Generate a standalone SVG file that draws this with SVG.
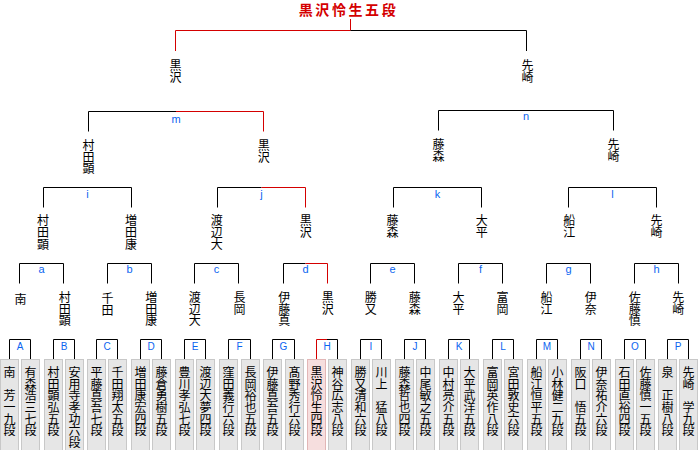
<svg xmlns="http://www.w3.org/2000/svg" width="700" height="450" viewBox="0 0 700 450">
<style>
.ln{fill:none;stroke:#000;stroke-width:1}
.rd{fill:none;stroke:#d40000;stroke-width:1}
.lb{font-family:"Liberation Sans",Arial,sans-serif;font-size:11px;fill:#0a64f0;text-anchor:middle}
.ub{font-family:"Liberation Sans",Arial,sans-serif;font-size:10px;fill:#0a64f0;text-anchor:middle}
.nm{font-family:"Noto Sans CJK JP","Noto Sans CJK SC",sans-serif;font-size:12px;fill:#000;writing-mode:vertical-rl;text-anchor:start;letter-spacing:-0.3px}
.bx{fill:#e6e6e6;stroke:#c8c8c8;stroke-width:1}
.bxr{fill:#f6dede;stroke:#e2b6b6;stroke-width:1}
.tt{font-family:"Noto Sans CJK JP","Noto Sans CJK SC",sans-serif;font-size:14px;font-weight:bold;fill:#d40000;text-anchor:middle;letter-spacing:2.6px}
</style>
<rect width="700" height="450" fill="#fff"/>
<g id="connectors">
<path class="rd" d="M350.5,19V30.5M175.5,51V30.5H350.5"/>
<path class="ln" d="M350.5,30.5H526.5V51"/>
<path class="ln" d="M88.5,131.5V111.5H176"/>
<path class="rd" d="M176,111.5H263.5V131.5"/>
<path class="ln" d="M438.5,130.5V110.5H613.5V130.5"/>
<path class="ln" d="M43.5,207.5V187.5H131.5V207.5"/>
<path class="ln" d="M217.5,207.5V187.5H261.5"/>
<path class="rd" d="M261.5,187.5H305.5V207.5"/>
<path class="ln" d="M393.5,207.5V187.5H481.5V207.5M568.5,207.5V187.5H656.5V207.5"/>
<path class="ln" d="M19.5,283.5V263.5H63.5V283.5M107.5,283.5V263.5H151.5V283.5M194.5,283.5V263.5H238.5V283.5M283.5,283.5V263.5H305.5M370.5,283.5V263.5H414.5V283.5M458.5,283.5V263.5H502.5V283.5M546.5,283.5V263.5H590.5V283.5M634.5,283.5V263.5H678.5V283.5"/>
<path class="rd" d="M305.5,263.5H327.5V283.5"/>
<path class="ln" d="M9.5,359.5V339.5H30.5V359.5M53.5,359.5V339.5H74.5V359.5M96.5,359.5V339.5H117.5V359.5M140.5,359.5V339.5H161.5V359.5M184.5,359.5V339.5H205.5V359.5M228.5,359.5V339.5H250.5V359.5M272.5,359.5V339.5H294.5V359.5M327,339.5H337.5V359.5M360.5,359.5V339.5H381.5V359.5M404.5,359.5V339.5H425.5V359.5M448.5,359.5V339.5H469.5V359.5M492.5,359.5V339.5H513.5V359.5M536.5,359.5V339.5H557.5V359.5M580.5,359.5V339.5H601.5V359.5M624.5,359.5V339.5H645.5V359.5M667.5,359.5V339.5H688.5V359.5"/>
<path class="rd" d="M316.5,359.5V339.5H327"/>
<text class="lb" x="176" y="122.5">m</text>
<text class="lb" x="526" y="120">n</text>
<text class="lb" x="87.5" y="197.5">i</text>
<text class="lb" x="261.5" y="197.5">j</text>
<text class="lb" x="437.5" y="197.5">k</text>
<text class="lb" x="612.5" y="197.5">l</text>
<text class="lb" x="41.5" y="272.5">a</text>
<text class="lb" x="129.5" y="272.5">b</text>
<text class="lb" x="216.5" y="272.5">c</text>
<text class="lb" x="305.5" y="272.5">d</text>
<text class="lb" x="392.5" y="272.5">e</text>
<text class="lb" x="480.5" y="272.5">f</text>
<text class="lb" x="568.5" y="272.5">g</text>
<text class="lb" x="656.5" y="272.5">h</text>
<text class="ub" x="20" y="349.5">A</text>
<text class="ub" x="64" y="349.5">B</text>
<text class="ub" x="107" y="349.5">C</text>
<text class="ub" x="151" y="349.5">D</text>
<text class="ub" x="195" y="349.5">E</text>
<text class="ub" x="239.5" y="349.5">F</text>
<text class="ub" x="283.5" y="349.5">G</text>
<text class="ub" x="327" y="349.5">H</text>
<text class="ub" x="371" y="349.5">I</text>
<text class="ub" x="415" y="349.5">J</text>
<text class="ub" x="459" y="349.5">K</text>
<text class="ub" x="503" y="349.5">L</text>
<text class="ub" x="547" y="349.5">M</text>
<text class="ub" x="591" y="349.5">N</text>
<text class="ub" x="635" y="349.5">O</text>
<text class="ub" x="678" y="349.5">P</text>
</g>
<g id="champion"><text class="tt" x="348.5" y="15">黒沢怜生五段</text></g>
<g id="f-kurosawa"><text class="nm" x="175.5" y="59.3">黒沢</text></g>
<g id="f-senzaki"><text class="nm" x="527.5" y="59.8">先崎</text></g>
<g id="s-murata"><text class="nm" x="88.5" y="139.3">村田顕</text></g>
<g id="s-kurosawa"><text class="nm" x="263.8" y="139.3">黒沢</text></g>
<g id="s-fujimori"><text class="nm" x="438.5" y="138.8">藤森</text></g>
<g id="s-senzaki"><text class="nm" x="613.5" y="138.8">先崎</text></g>
<g id="q-murata"><text class="nm" x="43" y="214.8">村田顕</text></g>
<g id="q-masuda"><text class="nm" x="131" y="214.8">増田康</text></g>
<g id="q-watanabe"><text class="nm" x="216.7" y="214.8">渡辺大</text></g>
<g id="q-kurosawa"><text class="nm" x="305.8" y="214.8">黒沢</text></g>
<g id="q-fujimori"><text class="nm" x="392.5" y="214.8">藤森</text></g>
<g id="q-ohira"><text class="nm" x="481.8" y="214.8">大平</text></g>
<g id="q-funae"><text class="nm" x="569.2" y="214.8">船江</text></g>
<g id="q-senzaki"><text class="nm" x="656.5" y="214.8">先崎</text></g>
<g id="r-minami"><text class="nm" x="20.5" y="293.8">南</text></g>
<g id="r-murata"><text class="nm" x="64.8" y="291.3">村田顕</text></g>
<g id="r-senda"><text class="nm" x="107.5" y="292.8">千田</text></g>
<g id="r-masuda"><text class="nm" x="151.2" y="291.3">増田康</text></g>
<g id="r-watanabe"><text class="nm" x="194.8" y="291.3">渡辺大</text></g>
<g id="r-nagaoka"><text class="nm" x="239.5" y="291.8">長岡</text></g>
<g id="r-itoshin"><text class="nm" x="284.2" y="291.3">伊藤真</text></g>
<g id="r-kurosawa"><text class="nm" x="327.8" y="291.3">黒沢</text></g>
<g id="r-katsumata"><text class="nm" x="370.8" y="291.3">勝又</text></g>
<g id="r-fujimori"><text class="nm" x="414.8" y="291.3">藤森</text></g>
<g id="r-ohira"><text class="nm" x="458.5" y="291.3">大平</text></g>
<g id="r-tomioka"><text class="nm" x="502.5" y="291.3">富岡</text></g>
<g id="r-funae"><text class="nm" x="546.5" y="291.3">船江</text></g>
<g id="r-ina"><text class="nm" x="590.8" y="291.3">伊奈</text></g>
<g id="r-satoshin"><text class="nm" x="634.8" y="291.3">佐藤慎</text></g>
<g id="r-senzaki"><text class="nm" x="678.3" y="291.3">先崎</text></g>
<g id="p01"><rect class="bx" x="0.5" y="359.5" width="18" height="95"/><text class="nm" x="9.5" y="366.3">南　芳一九段</text></g>
<g id="p02"><rect class="bx" x="21.5" y="359.5" width="18" height="95"/><text class="nm" x="30.5" y="366.3">有森浩三七段</text></g>
<g id="p03"><rect class="bx" x="44.5" y="359.5" width="18" height="95"/><text class="nm" x="53.5" y="366.3">村田顕弘五段</text></g>
<g id="p04"><rect class="bx" x="65.5" y="359.5" width="18" height="95"/><text class="nm" x="74.5" y="366.3">安用寺孝功六段</text></g>
<g id="p05"><rect class="bx" x="87.5" y="359.5" width="18" height="95"/><text class="nm" x="96.5" y="366.3">平藤真吾七段</text></g>
<g id="p06"><rect class="bx" x="108.5" y="359.5" width="18" height="95"/><text class="nm" x="117.5" y="366.3">千田翔太五段</text></g>
<g id="p07"><rect class="bx" x="131.5" y="359.5" width="18" height="95"/><text class="nm" x="140.5" y="366.3">増田康宏四段</text></g>
<g id="p08"><rect class="bx" x="152.5" y="359.5" width="18" height="95"/><text class="nm" x="161.5" y="366.3">藤倉勇樹五段</text></g>
<g id="p09"><rect class="bx" x="175.5" y="359.5" width="18" height="95"/><text class="nm" x="184.5" y="366.3">豊川孝弘七段</text></g>
<g id="p10"><rect class="bx" x="196.5" y="359.5" width="18" height="95"/><text class="nm" x="205.5" y="366.3">渡辺大夢四段</text></g>
<g id="p11"><rect class="bx" x="219.5" y="359.5" width="18" height="95"/><text class="nm" x="228.5" y="366.3">窪田義行六段</text></g>
<g id="p12"><rect class="bx" x="241.5" y="359.5" width="18" height="95"/><text class="nm" x="250.5" y="366.3">長岡裕也五段</text></g>
<g id="p13"><rect class="bx" x="263.5" y="359.5" width="18" height="95"/><text class="nm" x="272.5" y="366.3">伊藤真吾五段</text></g>
<g id="p14"><rect class="bx" x="285.5" y="359.5" width="18" height="95"/><text class="nm" x="294.5" y="366.3">髙野秀行六段</text></g>
<g id="p15"><rect class="bxr" x="307.5" y="359.5" width="18" height="95"/><text class="nm" x="316.5" y="366.3">黒沢怜生四段</text></g>
<g id="p16"><rect class="bx" x="328.5" y="359.5" width="18" height="95"/><text class="nm" x="337.5" y="366.3">神谷広志八段</text></g>
<g id="p17"><rect class="bx" x="351.5" y="359.5" width="18" height="95"/><text class="nm" x="360.5" y="366.3">勝又清和六段</text></g>
<g id="p18"><rect class="bx" x="372.5" y="359.5" width="18" height="95"/><text class="nm" x="381.5" y="366.3">川上　猛八段</text></g>
<g id="p19"><rect class="bx" x="395.5" y="359.5" width="18" height="95"/><text class="nm" x="404.5" y="366.3">藤森哲也四段</text></g>
<g id="p20"><rect class="bx" x="416.5" y="359.5" width="18" height="95"/><text class="nm" x="425.5" y="366.3">中尾敏之五段</text></g>
<g id="p21"><rect class="bx" x="439.5" y="359.5" width="18" height="95"/><text class="nm" x="448.5" y="366.3">中村亮介五段</text></g>
<g id="p22"><rect class="bx" x="460.5" y="359.5" width="18" height="95"/><text class="nm" x="469.5" y="366.3">大平武洋五段</text></g>
<g id="p23"><rect class="bx" x="483.5" y="359.5" width="18" height="95"/><text class="nm" x="492.5" y="366.3">富岡英作八段</text></g>
<g id="p24"><rect class="bx" x="504.5" y="359.5" width="18" height="95"/><text class="nm" x="513.5" y="366.3">宮田敦史六段</text></g>
<g id="p25"><rect class="bx" x="527.5" y="359.5" width="18" height="95"/><text class="nm" x="536.5" y="366.3">船江恒平五段</text></g>
<g id="p26"><rect class="bx" x="548.5" y="359.5" width="18" height="95"/><text class="nm" x="557.5" y="366.3">小林健二九段</text></g>
<g id="p27"><rect class="bx" x="571.5" y="359.5" width="18" height="95"/><text class="nm" x="580.5" y="366.3">阪口　悟五段</text></g>
<g id="p28"><rect class="bx" x="592.5" y="359.5" width="18" height="95"/><text class="nm" x="601.5" y="366.3">伊奈祐介六段</text></g>
<g id="p29"><rect class="bx" x="615.5" y="359.5" width="18" height="95"/><text class="nm" x="624.5" y="366.3">石田直裕四段</text></g>
<g id="p30"><rect class="bx" x="636.5" y="359.5" width="18" height="95"/><text class="nm" x="645.5" y="366.3">佐藤慎一五段</text></g>
<g id="p31"><rect class="bx" x="658.5" y="359.5" width="18" height="95"/><text class="nm" x="667.5" y="366.3">泉　正樹八段</text></g>
<g id="p32"><rect class="bx" x="679.5" y="359.5" width="18" height="95"/><text class="nm" x="688.5" y="366.3">先崎　学九段</text></g>
</svg>
